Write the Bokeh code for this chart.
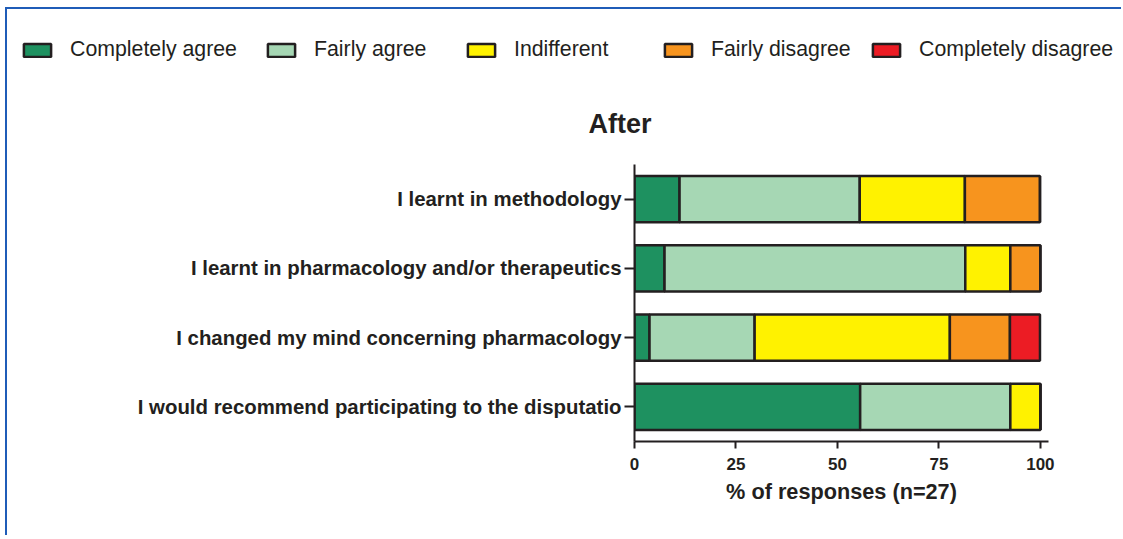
from bokeh.plotting import figure
from bokeh.models import Legend, LegendItem, FactorRange, Range1d, FixedTicker, ColumnDataSource
from bokeh.embed import file_html
from bokeh.resources import INLINE

# ---- data ----
statements = [
    "I learnt in methodology",
    "I learnt in pharmacology and/or therapeutics",
    "I changed my mind concerning pharmacology",
    "I would recommend participating to the disputatio",
]
levels = ["Completely agree", "Fairly agree", "Indifferent", "Fairly disagree", "Completely disagree"]
completely_agree = [11.1, 7.4, 3.7, 55.6]
fairly_agree = [44.4, 74.1, 25.9, 37.0]
indifferent = [25.9, 11.1, 48.1, 7.4]
fairly_disagree = [18.5, 7.4, 14.8, 0.0]
completely_disagree = [0.0, 0.0, 7.4, 0.0]
colors = ["#1e9160", "#a6d7b4", "#fff200", "#f7941e", "#ec1c24"]
x_ticks = [0, 25, 50, 75, 100]
title_text = "After"
x_label = "% of responses (n=27)"

TXT = "#231f20"
FONT = "Liberation Sans"
BLUE = "#1f5cb8"
W = 1116
H_LEG = 60
H_MAIN = 468
legend_x = [13, 257, 457, 654, 862]   # left edge of each legend entry (layout)

source = ColumnDataSource(dict(
    statement=statements,
    **{levels[0]: completely_agree, levels[1]: fairly_agree, levels[2]: indifferent,
       levels[3]: fairly_disagree, levels[4]: completely_disagree}))

# ---- legend strip: its own figure so the legend can span the full width ----
lf = figure(width=W, height=H_LEG, x_range=Range1d(0, 100),
            y_range=FactorRange(factors=list(reversed(statements))),
            output_backend="svg", toolbar_location=None,
            x_axis_location=None, y_axis_location=None, min_border=0)
lf.grid.visible = False
lf.outline_line_color = None
leg_renderers = lf.hbar_stack(levels, y="statement", height=0.67, color=colors, source=source,
                              line_color=TXT, line_width=2.5, visible=False)
for lv, r, lx in zip(levels, leg_renderers, legend_x):
    lg = Legend(
        items=[LegendItem(label=lv, renderers=[r])],
        orientation="horizontal", location=(lx, 7),
        glyph_width=34, glyph_height=16, label_height=16, label_standoff=16, spacing=0,
        padding=0, margin=0, border_line_color=None, background_fill_alpha=0,
        inactive_fill_alpha=0,
        label_text_font=FONT, label_text_font_size="21.3px", label_text_color=TXT,
    )
    lf.add_layout(lg, "center")
lf.styles = {"border-top": f"2px solid {BLUE}", "border-left": f"2px solid {BLUE}",
             "margin-top": "7px", "margin-left": "5px"}

# ---- main chart ----
p = figure(
    width=W, height=H_MAIN,
    y_range=FactorRange(factors=list(reversed(statements)), range_padding=0),
    x_range=Range1d(0, 102),
    output_backend="svg", toolbar_location=None,
    min_border_left=627, min_border_right=W - 1041, min_border_top=97,
    min_border_bottom=H_MAIN - 374,
)
p.styles = {"border-left": f"2px solid {BLUE}", "margin-left": "5px"}

p.hbar_stack(levels, y="statement", height=0.67, color=colors, source=source,
             line_color=TXT, line_width=2.5)

p.title.text = title_text
p.title.align = "left"
p.title.offset = -46
p.title.text_font = FONT
p.title.text_font_size = "27px"
p.title.text_font_style = "bold"
p.title.text_color = TXT
p.title.standoff = 52

p.grid.visible = False
p.outline_line_color = None

xa = p.xaxis[0]
xa.ticker = FixedTicker(ticks=x_ticks)
xa.minor_tick_line_color = None
xa.major_tick_in = 0
xa.major_tick_out = 7
xa.major_tick_line_width = 2
xa.major_tick_line_color = TXT
xa.axis_line_width = 2
xa.axis_line_color = TXT
xa.major_label_text_font = FONT
xa.major_label_text_font_size = "17px"
xa.major_label_text_font_style = "bold"
xa.major_label_text_color = TXT
xa.major_label_standoff = 9
xa.axis_label = x_label
xa.axis_label_text_font = FONT
xa.axis_label_text_font_size = "21.7px"
xa.axis_label_text_font_style = "bold"
xa.axis_label_text_color = TXT
xa.axis_label_standoff = 6

ya = p.yaxis[0]
ya.major_tick_in = 0
ya.major_tick_out = 10
ya.major_tick_line_width = 2
ya.major_tick_line_color = TXT
ya.axis_line_width = 2
ya.axis_line_color = TXT
ya.major_label_text_font = FONT
ya.major_label_text_font_size = "20.4px"
ya.major_label_text_font_style = "bold"
ya.major_label_text_color = TXT
ya.major_label_standoff = 3

open("out.html", "w").write(file_html([lf, p], INLINE))
